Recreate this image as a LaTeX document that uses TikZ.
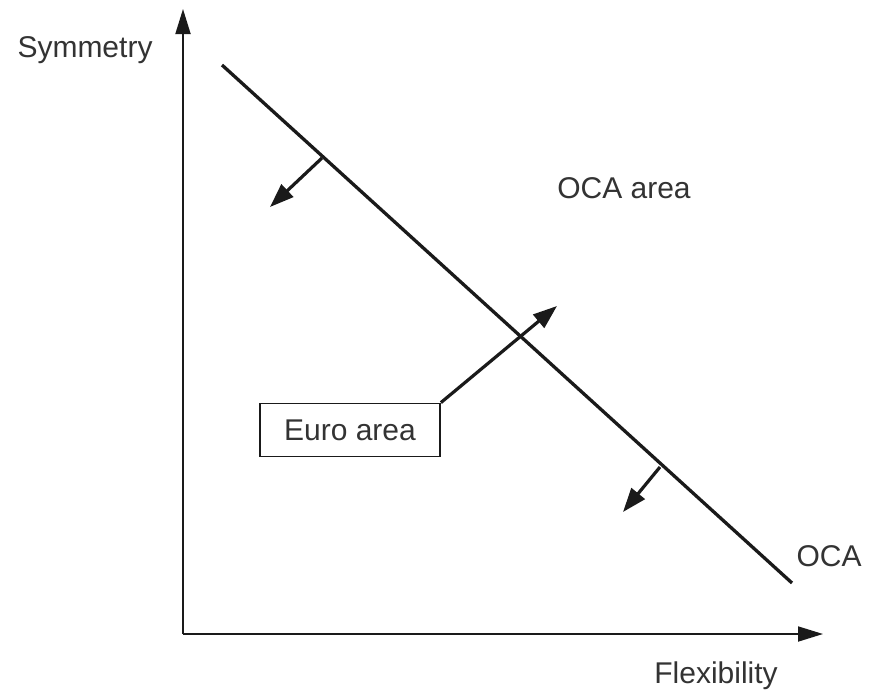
\documentclass[tikz,border=0pt]{standalone}
\usepackage{fontspec}
\setmainfont{Liberation Sans}
\usetikzlibrary{arrows.meta}
\definecolor{ink}{HTML}{1A1A1A}
\definecolor{txt}{HTML}{333333}
\begin{document}
\begin{tikzpicture}[x=1pt,y=-1pt,
  axis/.style={line width=1.8pt,draw=ink,-{Triangle[length=25pt,width=15pt]}},
  curve/.style={line width=3.3pt,draw=ink},
  shift arrow/.style={line width=3.2pt,draw=ink,-{Triangle[length=24pt,width=17pt]}},
  lbl/.style={text=txt,font=\fontsize{30}{33}\selectfont,inner sep=0pt},
  boxed/.style={lbl,draw=ink,line width=1.8pt,minimum width=180pt,minimum height=53pt}]
\useasboundingbox (0,0) rectangle (886,691);
% axes
\coordinate (origin) at (183,634);
\coordinate (ytop) at (183,9);
\coordinate (xend) at (823,634);
\draw[axis] (origin) -- (ytop);
\draw[axis] (origin) -- (xend);
% OCA line
\coordinate (ocaA) at (222,65);
\coordinate (ocaB) at (792,583);
\draw[curve] (ocaA) -- (ocaB);
% shift arrows on the OCA line
\coordinate (j1) at (322,158);
\coordinate (t1) at (270,207);
\coordinate (j2) at (660,467);
\coordinate (t2) at (623,512);
\draw[shift arrow] (j1) -- (t1);
\draw[shift arrow] (j2) -- (t2);
% labels
\node[lbl] (sym) at (85,50) {Symmetry};
\node[lbl] (ocaarea) at (624,188) {OCA area};
\node[lbl] (oca) at (829,556) {OCA};
\node[lbl] (flex) at (716,676) {Flexibility};
% euro area box and its arrow
\node[boxed] (euro) at (350,430) {Euro area};
\coordinate (eurotip) at (557,306);
\draw[shift arrow] (euro.north east) -- (eurotip);
\end{tikzpicture}
\end{document}
